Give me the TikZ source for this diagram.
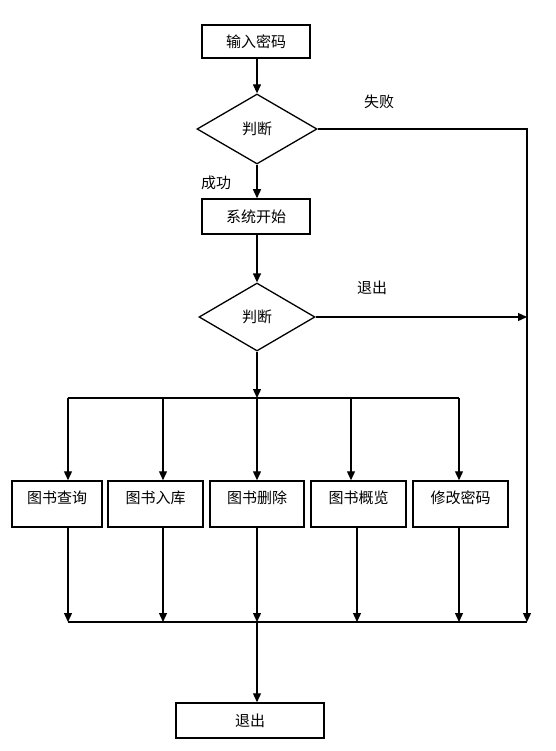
\documentclass[tikz,border=0pt]{standalone}
\usepackage{fontspec}
\newfontfamily\cjk{Noto Sans CJK SC}
\usetikzlibrary{shapes.geometric,arrows.meta}
\tikzset{
  every node/.style={font=\cjk\fontsize{15}{17}\selectfont},
  box/.style={draw, line width=1.5pt, rectangle, inner sep=0pt},
  lowbox/.style={box, minimum height=46pt, text height=10pt, text depth=11pt},
  dec/.style={draw, line width=1.3pt, diamond, inner sep=0pt},
  conn/.style={line width=1.3pt},
  arr/.style={conn, -{Triangle[length=9pt,width=8pt]}},
  lbl/.style={inner sep=0pt}
}
\begin{document}
\begin{tikzpicture}[x=1pt,y=-1pt]
\useasboundingbox[fill=white] (0,0) rectangle (555,751);
% boxes and decisions
\node[box, minimum width=108pt, minimum height=33pt] (in) at (256,41.5) {输入密码};
\node[dec, minimum width=120pt, minimum height=70pt] (d1) at (257,129) {判断};
\node[box, minimum width=108pt, minimum height=35pt] (sys) at (256,216.5) {系统开始};
\node[dec, minimum width=116pt, minimum height=68pt] (d2) at (257,317) {判断};
\node[lowbox, minimum width=90pt] (b1) at (57,504) {图书查询};
\node[lowbox, minimum width=95pt] (b2) at (155.5,504) {图书入库};
\node[lowbox, minimum width=94pt] (b3) at (257,504) {图书删除};
\node[lowbox, minimum width=95pt] (b4) at (358.5,504) {图书概览};
\node[lowbox, minimum width=95pt] (b5) at (460.5,504) {修改密码};
\node[box, minimum width=148pt, minimum height=35pt] (ex) at (250,720.5) {退出};
% labels
\node[lbl] (fail) at (379,102) {失败};
\node[lbl] (ok) at (216,183) {成功};
\node[lbl] (quit) at (372,288) {退出};
% junction coordinates
\coordinate (r1) at (527,129);
\coordinate (r2) at (527,317);
\coordinate (r3) at (527,622);
\coordinate (jc) at (257,398);
\coordinate (j1) at (68,398);
\coordinate (j2) at (163,398);
\coordinate (j4) at (351,398);
\coordinate (j5) at (459,398);
\coordinate (kc) at (257,622);
\coordinate (k1) at (68,622);
\coordinate (k2) at (163,622);
\coordinate (k4) at (357,622);
\coordinate (k5) at (459,622);
% connectors
\draw[arr] (in.south -| d1.north) -- (d1.north);
\draw[arr] (d1.south) -- (d1.south |- sys.north);
\draw[arr] (sys.south -| d2.north) -- (d2.north);
\draw[conn] (d1.east) -- (r1) -- (r2);
\draw[arr] (r2) -- (r3);
\draw[arr] (d2.east) -- (r2);
\draw[arr] (d2.south) -- (jc);
\draw[conn] (j1) -- (j5);
\draw[arr] (j1) -- (j1 |- b1.north);
\draw[arr] (j2) -- (j2 |- b2.north);
\draw[arr] (jc) -- (jc |- b3.north);
\draw[arr] (j4) -- (j4 |- b4.north);
\draw[arr] (j5) -- (j5 |- b5.north);
\draw[arr] (k1 |- b1.south) -- (k1);
\draw[arr] (k2 |- b2.south) -- (k2);
\draw[arr] (kc |- b3.south) -- (kc);
\draw[arr] (k4 |- b4.south) -- (k4);
\draw[arr] (k5 |- b5.south) -- (k5);
\draw[conn] (k1) -- (r3);
\draw[arr] (kc) -- (kc |- ex.north);
\end{tikzpicture}
\end{document}
